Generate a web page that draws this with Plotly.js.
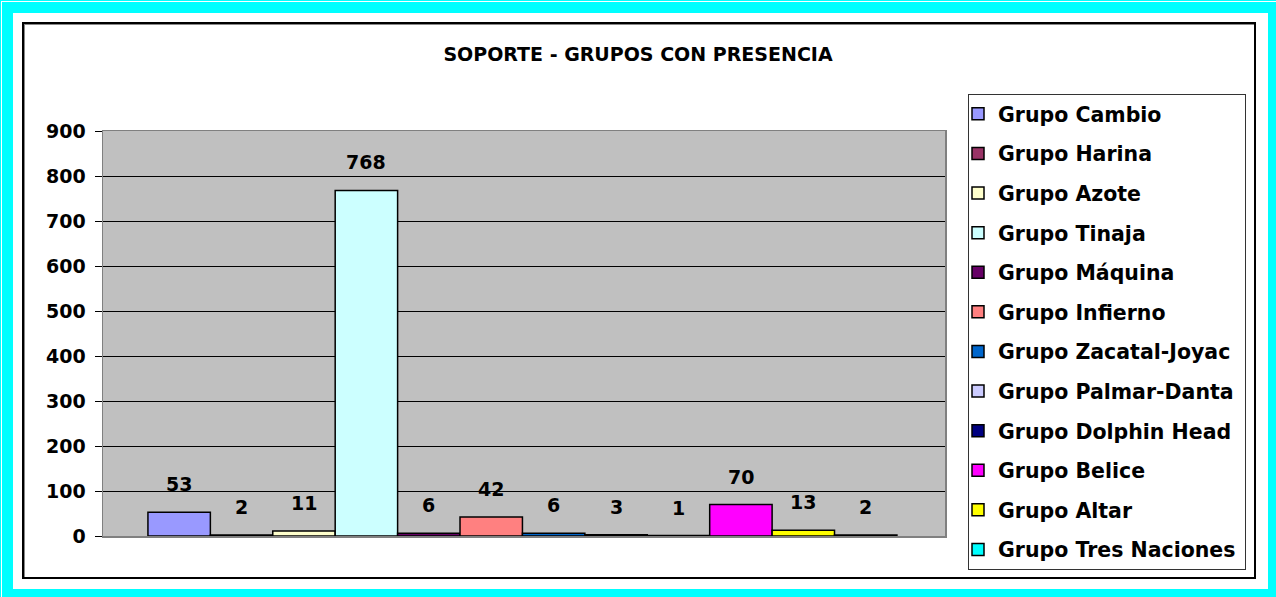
<!DOCTYPE html>
<html>
<head>
<meta charset="utf-8">
<script src="https://cdn.plot.ly/plotly-3.0.1.min.js"></script>
<style>
  html, body { margin: 0; padding: 0; }
  body { width: 1276px; height: 597px; overflow: hidden; background: #00FFFF; position: relative; }
  .deco { position: absolute; box-sizing: border-box; pointer-events: none; }
  #whiteline { left: 1px; top: 1px; width: 1275px; height: 596px; border-left: 1px solid #fff; border-top: 1px solid #fff; }
  #inner { left: 13px; top: 13px; width: 1255px; height: 576px; background: #fff; }
  #frame { left: 22px; top: 22px; width: 1234px; height: 557px; border: 2px solid #000; box-shadow: inset 1px 1px 0 #888; }
  #legbox { left: 968px; top: 94px; width: 278px; height: 476px; border: 1px solid #333; }
  #chart { position: absolute; left: 0; top: 0; width: 1276px; height: 597px; }
</style>
</head>
<body>
<div class="deco" id="whiteline"></div>
<div class="deco" id="inner"></div>
<div class="deco" id="frame"></div>
<div class="deco" id="legbox"></div>
<div id="chart"></div>
<script>
const groups = ["Grupo Cambio", "Grupo Harina", "Grupo Azote", "Grupo Tinaja", "Grupo Máquina",
  "Grupo Infierno", "Grupo Zacatal-Joyac", "Grupo Palmar-Danta", "Grupo Dolphin Head",
  "Grupo Belice", "Grupo Altar", "Grupo Tres Naciones"];
const values = [53, 2, 11, 768, 6, 42, 6, 3, 1, 70, 13, 2];
const colors = ["#9999FF", "#993366", "#FFFFCC", "#CCFFFF", "#660066", "#FF8080",
  "#0066CC", "#CCCCFF", "#000080", "#FF00FF", "#FFFF00", "#00FFFF"];
const chartTitle = "SOPORTE - GRUPOS CON PRESENCIA";
const yTicks = [0, 100, 200, 300, 400, 500, 600, 700, 800, 900];

const FONT = "DejaVu Sans, Liberation Sans, Arial, sans-serif";

const traces = groups.map((g, i) => ({
  type: "bar",
  name: g,
  legendgroup: "g" + i,
  x: [g],
  y: [values[i]],
  marker: { color: colors[i], line: { color: "#000000", width: 1.5 } },
  hoverinfo: "skip"
}));

const annotations = groups.map((g, i) => ({
  x: g, y: values[i], xref: "x", yref: "y",
  text: String(values[i]), showarrow: false,
  yanchor: "middle", yshift: 28,
  font: { family: FONT, size: 19, color: "#000", weight: 700 }
}));

const layout = {
  width: 1276, height: 597,
  margin: { l: 103, r: 331, t: 131, b: 61, pad: 0 },
  paper_bgcolor: "rgba(0,0,0,0)",
  plot_bgcolor: "#C0C0C0",
  barmode: "overlay",
  bargap: 0,
  title: {
    text: chartTitle,
    font: { family: FONT, size: 19, color: "#000", weight: 700 },
    xref: "container", x: 0.5, xanchor: "center",
    yref: "container", y: 1 - 54 / 597, yanchor: "middle"
  },
  xaxis: {
    type: "category",
    range: [-1.22, 12.27],
    showticklabels: false, ticks: "",
    showgrid: false, zeroline: false,
    showline: true, linecolor: "#808080", linewidth: 1.5, mirror: true,
    fixedrange: true
  },
  yaxis: {
    range: [0, 900],
    tickvals: yTicks,
    ticktext: yTicks.map(String),
    ticks: "outside", ticklen: 7, tickcolor: "#000", tickwidth: 1,
    ticklabelstandoff: 5,
    tickfont: { family: FONT, size: 19, color: "#000", weight: 700 },
    showgrid: true, gridcolor: "#000000", gridwidth: 1,
    zeroline: false,
    showline: true, linecolor: "#808080", linewidth: 1.5, mirror: true,
    fixedrange: true
  },
  showlegend: true,
  legend: {
    x: (958 - 103) / 842, xanchor: "left",
    y: (536 - 94) / 405, yanchor: "top",
    maxheight: 560,
    traceorder: "grouped",
    tracegroupgap: 9.95,
    bgcolor: "rgba(0,0,0,0)",
    borderwidth: 0,
    font: { family: FONT, size: 20.5, color: "#000", weight: 700 }
  },
  annotations: annotations,
  hovermode: false
};

Plotly.newPlot("chart", traces, layout, { staticPlot: true, displayModeBar: false });
</script>
</body>
</html>
